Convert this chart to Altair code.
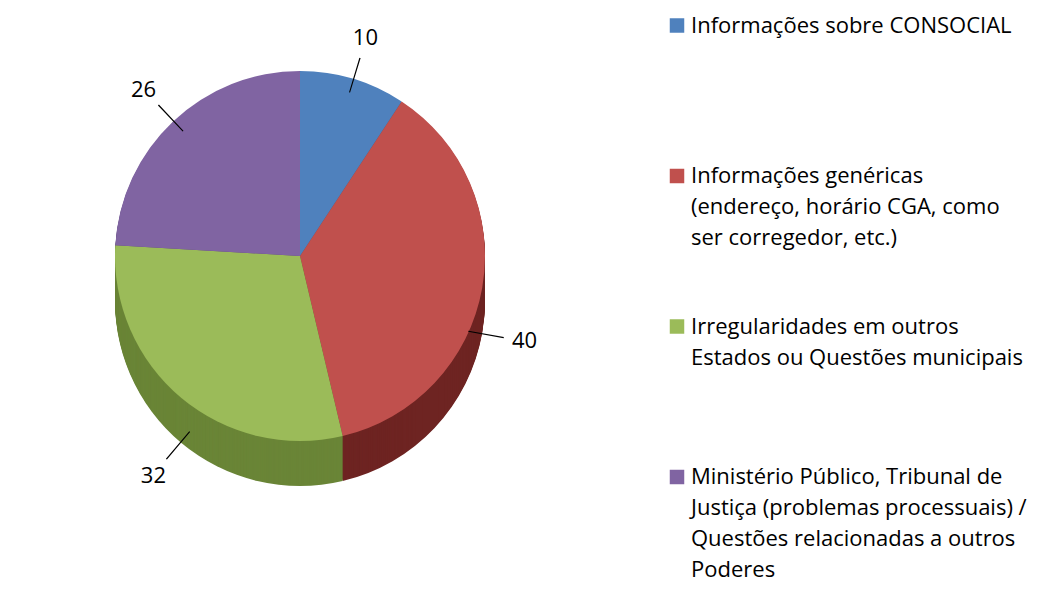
import altair as alt
import pandas as pd

categories = [
    "Informações sobre CONSOCIAL",
    "Informações genéricas (endereço, horário CGA, como ser corregedor, etc.)",
    "Irregularidades em outros Estados ou Questões municipais",
    "Ministério Público, Tribunal de Justiça (problemas processuais) / Questões relacionadas a outros Poderes",
]
values = [10, 40, 32, 26]
legend_text = [
    "Informações sobre CONSOCIAL",
    "Informações genéricas\n(endereço, horário CGA, como\nser corregedor, etc.)",
    "Irregularidades em outros\nEstados ou Questões municipais",
    "Ministério Público, Tribunal de\nJustiça (problemas processuais) /\nQuestões relacionadas a outros\nPoderes",
]
top_colors = ["#4F81BD", "#C0504D", "#9BBB59", "#8064A2"]
side_colors = ["#365F91", "#6E2422", "#6A8537", "#5C4876"]

total = sum(values)
starts = [sum(values[:i]) for i in range(len(values))]
df = pd.DataFrame({
    "cat": categories,
    "value": values,
    "order": list(range(len(values))),
    "mid": [s + v / 2 for s, v in zip(starts, values)],
    "label": [str(v) for v in values],
    "legend": legend_text,
})
df["mid2"] = df["mid"] + 0.11

W, H = 1035, 574
CX, CY = 292, 248
R = 185
DEPTH = 45
FONT = "Open Sans"
FS = 22

theta_scale = alt.Scale(domain=[0, total])
base = alt.Chart(df)

layers = []
# side (3D thickness)
for k in range(DEPTH, 0, -1):
    layers.append(
        base.mark_arc(radius=R).encode(
            theta=alt.Theta("value:Q", stack=True, scale=theta_scale),
            fill=alt.Fill("cat:N", scale=alt.Scale(domain=categories, range=side_colors), legend=None),
            order=alt.Order("order:Q"),
            x=alt.value(CX),
            y=alt.value(CY + k),
        )
    )
# top face
layers.append(
    base.mark_arc(radius=R).encode(
        theta=alt.Theta("value:Q", stack=True, scale=theta_scale),
        color=alt.Color("cat:N", scale=alt.Scale(domain=categories, range=top_colors), legend=None),
        order=alt.Order("order:Q"),
        x=alt.value(CX),
        y=alt.value(CY),
    )
)

upper = "datum.mid < %f || datum.mid > %f" % (total / 4, 3 * total / 4)
lower = "datum.mid >= %f && datum.mid <= %f" % (total / 4, 3 * total / 4)
for cond, cy in [(upper, CY), (lower, CY + DEPTH)]:
    layers.append(
        base.transform_filter(cond).mark_arc(radius=R + 22, radius2=R - 14, color="black").encode(
            theta=alt.Theta("mid:Q", scale=theta_scale),
            theta2="mid2:Q",
            x=alt.value(CX),
            y=alt.value(cy),
        )
    )
    layers.append(
        base.transform_filter(cond).mark_text(radius=R + 43, font=FONT, fontSize=FS, color="black").encode(
            theta=alt.Theta("mid:Q", scale=theta_scale),
            text="label:N",
            x=alt.value(CX),
            y=alt.value(cy),
        )
    )

ypos = alt.Y("cat:N", scale=alt.Scale(type="point", domain=categories, range=[17.5, 469], padding=0), axis=None)
layers.append(
    base.mark_square(size=210, opacity=1).encode(
        x=alt.value(669),
        y=ypos,
        color=alt.Color("cat:N", scale=alt.Scale(domain=categories, range=top_colors), legend=None),
    )
)
layers.append(
    base.mark_text(align="left", baseline="alphabetic", dy=7, lineBreak="\n", font=FONT,
                   fontSize=FS, lineHeight=31, color="black").encode(
        x=alt.value(683),
        y=ypos,
        text="legend:N",
    )
)

chart = alt.layer(*layers).properties(
    width=W, height=H, padding=0,
    autosize=alt.AutoSizeParams(type="fit", contains="padding"),
).configure_view(stroke=None)

chart.save("out.html", embed_options={"renderer": "svg", "actions": False})
